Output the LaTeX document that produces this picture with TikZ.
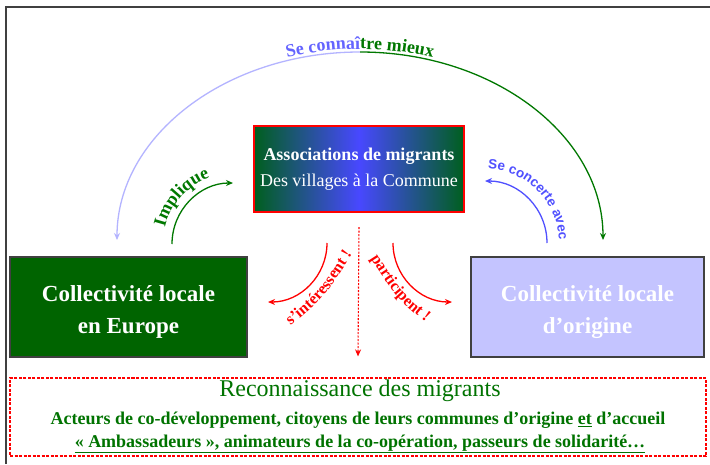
\documentclass[tikz,border=0pt]{standalone}
\usepackage{fontspec}
\setmainfont{Liberation Serif}
\newfontfamily\sansf{Liberation Sans}
\usetikzlibrary{arrows.meta,decorations.text,calc}
\definecolor{dkgreen}{RGB}{0,100,0}
\definecolor{txtgreen}{RGB}{0,115,0}
\definecolor{arcgreen}{RGB}{0,120,0}
\definecolor{lightblue}{RGB}{180,180,255}
\definecolor{midblue}{RGB}{100,100,255}
\definecolor{conblue}{RGB}{80,80,255}
\definecolor{lavender}{RGB}{196,196,255}
\definecolor{gradgreen}{RGB}{0,95,30}
\definecolor{gradblue}{RGB}{72,72,255}
\begin{document}
\begin{tikzpicture}[x=1pt,y=1pt,
  tipend/.style={-{Stealth[length=7pt,width=6pt]}},
  tipstart/.style={{Stealth[length=7pt,width=6pt]}-},
  bigbox/.style={draw=black!75,line width=1.5pt,minimum width=#1,minimum height=100pt,inner sep=0pt},
  boxtext/.style={text=white,align=center,font=\fontsize{23}{32}\selectfont\bfseries},
  bottomtext/.style={text=txtgreen,font=\fontsize{18}{18}\selectfont\bfseries},
  arcline/.style={line width=1.3pt}]
\useasboundingbox (0,0) rectangle (710,-464);
\fill[white] (0,0) rectangle (710,-464);
% frame
\coordinate (fbl) at (6,-464);
\coordinate (ftl) at (6,-7);
\coordinate (ftr) at (710,-7);
\draw[black!75,line width=2.5pt] (fbl) -- (ftl) -- (ftr);
% boxes
\node[draw=red,line width=2pt,left color=gradgreen,right color=gradgreen,middle color=gradblue,
  minimum width=210pt,minimum height=86pt,inner sep=0pt,text=white,align=center,
  font=\fontsize{18}{26}\selectfont] (assoc) at (359,-169)
  {\textbf{Associations de migrants}\\Des villages à la Commune};
\node[bigbox=237pt,fill=dkgreen] (europe) at (128.5,-307) {};
\node[boxtext] (europetxt) at (128.5,-312) {Collectivité locale\\en Europe};
\node[bigbox=233pt,fill=lavender] (origine) at (587.5,-307) {};
\node[boxtext] (originetxt) at (587.5,-312) {Collectivité locale\\d’origine};
\node[draw=red,line width=1.2pt,dash pattern=on 3pt off 1.5pt,minimum width=696pt,minimum height=78pt,inner sep=0pt] (recon) at (358,-417) {};
\node[text=txtgreen,font=\fontsize{24}{24}\selectfont] (recon1) at (360,-391) {Reconnaissance des migrants};
\node[bottomtext] (recon2) at (358,-420) {Acteurs de co-développement, citoyens de leurs communes d’origine \underline{et} d’accueil};
\node[bottomtext] (recon3) at (360,-444) {\underline{« Ambassadeurs », animateurs de la co-opération, passeurs de solidarité…}};
% big arc
\coordinate (bigc) at (360,-240);
\draw[lightblue,arcline,tipstart] ([shift={(-243,0)}]bigc) arc[start angle=180,end angle=90,x radius=243pt,y radius=188pt];
\draw[arcgreen,arcline,tipend] ([shift={(0,188)}]bigc) arc[start angle=90,end angle=0,x radius=243pt,y radius=188pt];
\path[decorate,decoration={text along path,text align=right,
  text={|\fontsize{18}{18}\selectfont\bfseries\color{midblue}|Se connaî}}]
  ([shift={(-246,0)}]bigc) arc[start angle=180,end angle=90,x radius=246pt,y radius=191pt];
\path[decorate,decoration={text along path,text align=left,
  text={|\fontsize{18}{18}\selectfont\bfseries\color{arcgreen}|tre mieux}}]
  ([shift={(0,191)}]bigc) arc[start angle=90,end angle=0,x radius=246pt,y radius=191pt];
% Implique
\coordinate (impc) at (233,-244);
\draw[arcgreen,arcline,tipend] ([shift={(180:61pt)}]impc) arc[start angle=180,end angle=90,radius=61pt];
\path[decorate,decoration={text along path,text align=center,
  text={|\fontsize{18}{18}\selectfont\bfseries\color{arcgreen}|Implique}}]
  ([shift={(176:70pt)}]impc) arc[start angle=176,end angle=100,radius=70pt];
% Se concerte avec
\coordinate (conc) at (485,-243);
\draw[conblue,arcline,tipend] ([shift={(0:62pt)}]conc) arc[start angle=0,end angle=90,radius=62pt];
\path[decorate,decoration={text along path,text align=center,
  text={|\sansf\fontsize{13.5}{14}\selectfont\bfseries\color{conblue}|Se concerte avec}}]
  ([shift={(90:74pt)}]conc) arc[start angle=90,end angle=0,radius=74pt];
% red arcs
\coordinate (lc) at (268,-243);
\coordinate (rc) at (452,-243);
\draw[red,arcline,tipend] ([shift={(0:59pt)}]lc) arc[start angle=0,end angle=-90,radius=59pt];
\draw[red,arcline,tipend] ([shift={(180:59pt)}]rc) arc[start angle=180,end angle=270,radius=59pt];
\coordinate (ls) at (285,-330);
\coordinate (lk) at (323.5,-299);
\coordinate (le) at (356,-248);
\coordinate (rs) at (364,-248);
\coordinate (rk) at (396.5,-299);
\coordinate (re) at (435,-330);
\path[decorate,decoration={text along path,text align=center,
  text={|\fontsize{16}{17}\selectfont\bfseries\color{red}|s’intéressent !}}]
  (ls) .. controls (lk) .. (le);
\path[decorate,decoration={text along path,text align=center,
  text={|\fontsize{16}{17}\selectfont\bfseries\color{red}|participent !}}]
  (rs) .. controls (rk) .. (re);
% dotted vertical
\draw[red,line width=1.1pt,dash pattern=on 2pt off 1.5pt,tipend] ([yshift=-14pt]assoc.south) -- ([yshift=21pt]recon.north);
\end{tikzpicture}
\end{document}
